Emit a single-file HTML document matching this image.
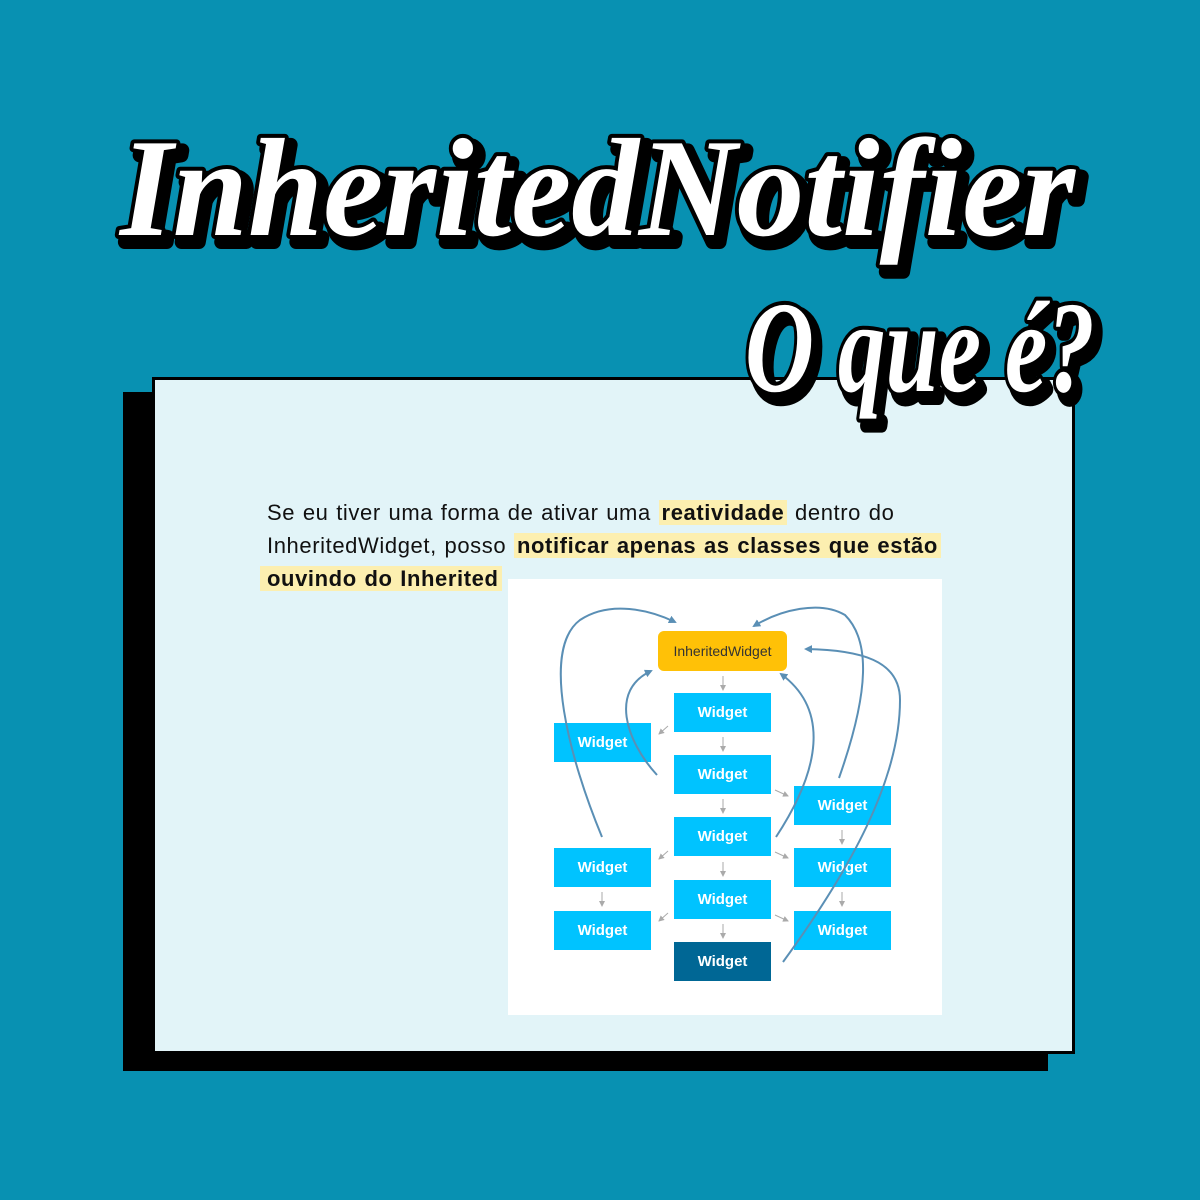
<!DOCTYPE html>
<html><head><meta charset="utf-8"><style>
body{margin:0;width:1200px;height:1200px;background:#0891b2;position:relative;overflow:hidden;font-family:"Liberation Sans",sans-serif}
.shadow{position:absolute;left:123px;top:392px;width:925px;height:679px;background:#000}
.card{position:absolute;left:152px;top:377px;width:917px;height:671px;background:#e2f4f8;border:3px solid #000}
.txt{position:absolute;left:267px;top:496px;width:720px;font-size:22px;letter-spacing:0.6px;word-spacing:1px;line-height:33px;color:#111}
.hl{background:#fcefb0;font-weight:bold;padding:0 3px}
.w{position:absolute;background:#00c3ff;color:#fff;font-size:15px;font-weight:bold;display:flex;align-items:center;justify-content:center;width:97px;height:39px}
</style></head><body>
<div class="shadow"></div>
<div class="card"></div>
<div class="txt">Se eu tiver uma forma de ativar uma <span class="hl">reatividade</span> dentro do InheritedWidget, posso <span class="hl">notificar apenas as classes que estão</span><br><span class="hl" style="margin-left:-7px;padding-left:7px"> ouvindo do Inherited</span></div>
<div style="position:absolute;left:508px;top:579px;width:434px;height:436px;background:#fff"></div>
<div class="w" style="left:658px;top:631px;width:129px;height:40px;background:#ffc107;color:#333;border-radius:6px;font-weight:normal;font-size:14px">InheritedWidget</div>
<div class="w" style="left:674px;top:693px">Widget</div>
<div class="w" style="left:674px;top:755px">Widget</div>
<div class="w" style="left:674px;top:817px">Widget</div>
<div class="w" style="left:674px;top:880px">Widget</div>
<div class="w" style="left:674px;top:942px;background:#006795">Widget</div>
<div class="w" style="left:554px;top:723px">Widget</div>
<div class="w" style="left:554px;top:848px">Widget</div>
<div class="w" style="left:554px;top:911px">Widget</div>
<div class="w" style="left:794px;top:786px">Widget</div>
<div class="w" style="left:794px;top:848px">Widget</div>
<div class="w" style="left:794px;top:911px">Widget</div>
<svg width="1200" height="1200" style="position:absolute;left:0;top:0">
<defs>
<marker id="a" markerWidth="8" markerHeight="8" refX="6" refY="4" orient="auto" markerUnits="userSpaceOnUse"><path d="M0,0L8,4L0,8z" fill="#5a8fb5"/></marker>
<marker id="g" markerWidth="6" markerHeight="6" refX="5" refY="3" orient="auto" markerUnits="userSpaceOnUse"><path d="M0,0L6,3L0,6z" fill="#aaa"/></marker>
</defs>
<g stroke="#aaa" stroke-width="1" marker-end="url(#g)">
<path d="M723 676V690"/><path d="M723 737V751"/><path d="M723 799V813"/><path d="M723 862V876"/><path d="M723 924V938"/>
<path d="M668 726L659 734"/><path d="M668 851L659 859"/><path d="M668 913L659 921"/>
<path d="M775 790L788 796"/><path d="M775 852L788 858"/><path d="M775 915L788 921"/>
<path d="M602 892V906"/><path d="M842 830V844"/><path d="M842 892V906"/>
</g>
<g stroke="#5a8fb5" stroke-width="2" fill="none" marker-end="url(#a)">
<path d="M602 837C570 760 540 650 580 620C610 600 650 610 675 622"/>
<path d="M657 775C625 740 610 690 651 671"/>
<path d="M776 837C820 770 830 710 781 674"/>
<path d="M839 778C870 690 870 640 845 615C820 600 780 610 754 626"/>
<path d="M783 962C850 870 900 780 900 700C900 660 860 650 806 649"/>
</g>
<g font-family="Liberation Serif,serif" font-style="italic" font-weight="bold" stroke-linejoin="round">
<text x="126" y="242" font-size="140" textLength="955" lengthAdjust="spacingAndGlyphs" fill="#000" stroke="#000" stroke-width="14">InheritedNotifier</text>
<text x="120" y="235" font-size="140" textLength="955" lengthAdjust="spacingAndGlyphs" fill="#fff" stroke="#000" stroke-width="8" paint-order="stroke">InheritedNotifier</text>
<text x="751" y="398" font-size="130" textLength="350" lengthAdjust="spacingAndGlyphs" fill="#000" stroke="#000" stroke-width="14">O que é?</text>
<text x="745" y="391" font-size="130" textLength="350" lengthAdjust="spacingAndGlyphs" fill="#fff" stroke="#000" stroke-width="8" paint-order="stroke">O que é?</text>
</g>
</svg>
</body></html>
